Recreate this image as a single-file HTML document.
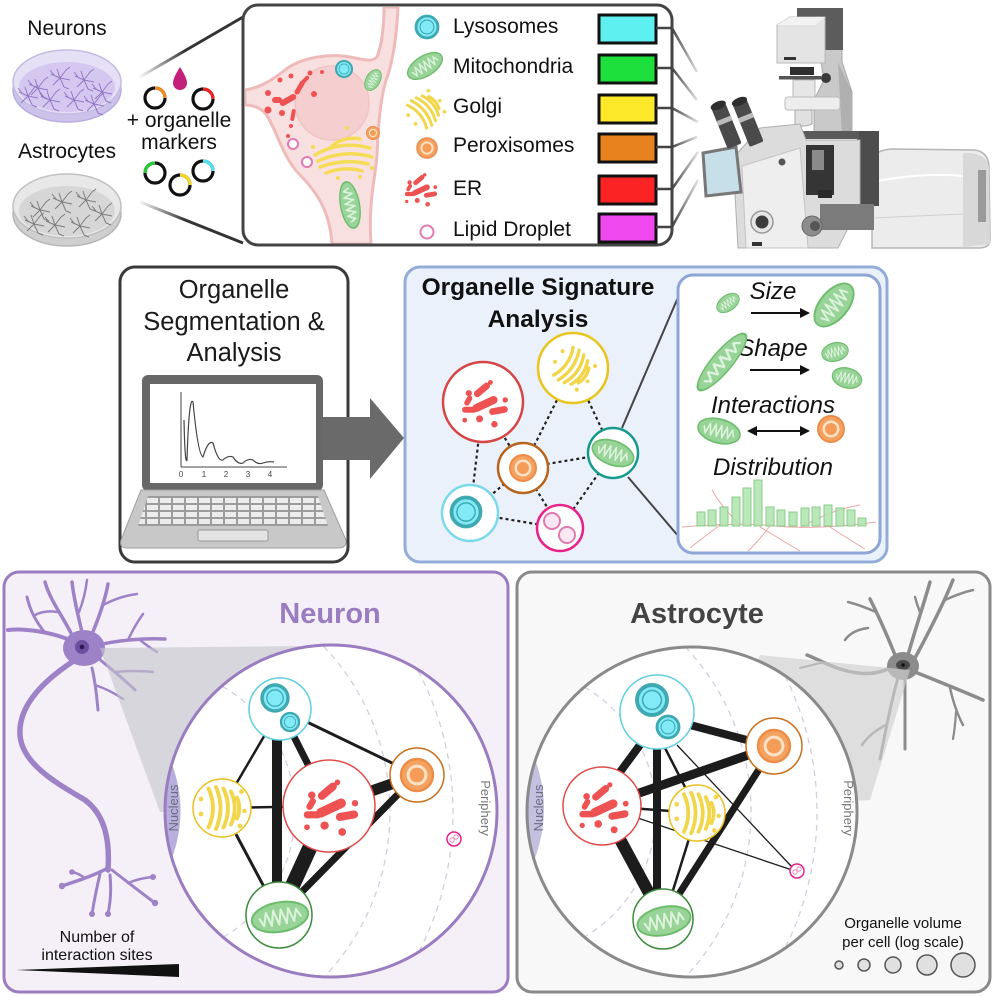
<!DOCTYPE html>
<html><head><meta charset="utf-8"><style>
html,body{margin:0;padding:0;background:#fff;width:996px;height:996px;overflow:hidden}
svg{display:block}
text{font-family:"Liberation Sans",Arial,sans-serif}
</style></head><body>
<svg width="996" height="996" viewBox="0 0 996 996" xmlns="http://www.w3.org/2000/svg">
<defs>
 <g id="mito">
  <ellipse cx="0" cy="0" rx="30" ry="14" fill="#98d398" stroke="#6dbd6d" stroke-width="2"/>
  <path d="M-22 -2 L-18 6 L-14 -6 L-10 7 L-6 -7 L-2 7 L2 -7 L6 7 L10 -7 L14 6 L18 -5 L22 3" fill="none" stroke="#dcf2dc" stroke-width="2.2" stroke-linejoin="round"/>
 </g>
 <g id="lyso">
  <circle r="10" fill="#82eaf6" stroke="#3fa9b2" stroke-width="2.6"/>
  <circle r="6.3" fill="none" stroke="#3fa9b2" stroke-width="1"/>
 </g>
 <g id="perox">
  <circle r="10" fill="#f4a262" stroke="#ec8c46" stroke-width="1.5"/>
  <circle r="6.5" fill="#fde3c6"/>
  <circle r="4.6" fill="#f59c58"/>
 </g>
 <g id="golgi">
  <g fill="none" stroke="#f2d64a" stroke-width="2.6" stroke-linecap="round">
   <path d="M-9 -13 Q -3 0 -9 13"/>
   <path d="M-4 -14 Q 2 0 -4 14"/>
   <path d="M1 -13 Q 7 0 1 13"/>
   <path d="M6 -11 Q 11 0 6 11"/>
   <path d="M10 -7 Q 13 0 10 7"/>
  </g>
  <g fill="#f2d64a">
   <circle cx="-14" cy="-6" r="1.6"/><circle cx="-14" cy="4" r="1.6"/>
   <circle cx="13" cy="-11" r="1.6"/><circle cx="15" cy="2" r="1.5"/><circle cx="12" cy="12" r="1.6"/>
  </g>
 </g>
 <g id="er" fill="#ee5252">
  <rect x="-10" y="-3" width="20" height="6" rx="3" transform="rotate(-25)"/>
  <rect x="-2" y="-12" width="14" height="5" rx="2.5" transform="rotate(-40)"/>
  <rect x="2" y="4" width="14" height="5" rx="2.5" transform="rotate(-10)"/>
  <rect x="-17" y="2" width="11" height="4.5" rx="2.2"/>
  <rect x="-8" y="-14" width="8" height="4" rx="2" transform="rotate(-60)"/>
  <circle cx="-12" cy="-8" r="2.3"/><circle cx="-4" cy="11" r="2.6"/>
  <circle cx="7" cy="15" r="2.4"/><circle cx="15" cy="-3" r="2"/>
  <circle cx="4" cy="-16" r="1.8"/><circle cx="-15" cy="12" r="1.8"/>
 </g>
 <g id="nstar">
  <path d="M0 0 L-9 -4 M0 0 L-3 -9 M0 0 L6 -8 M0 0 L10 2 M0 0 L4 9 M0 0 L-7 7 M-6 -3 L-10 -8 M6 -8 L10 -11 M4 9 L9 11" fill="none" stroke-width="1"/>
 </g>
 <marker id="ah" viewBox="0 0 10 10" refX="8" refY="5" markerWidth="5" markerHeight="5" orient="auto-start-reverse">
  <path d="M0 0 L10 5 L0 10 Z" fill="#111"/>
 </marker>
 <linearGradient id="fadeL" gradientUnits="userSpaceOnUse" x1="138" y1="0" x2="243" y2="0">
  <stop offset="0" stop-color="#333" stop-opacity="0"/><stop offset="0.45" stop-color="#333" stop-opacity="1"/>
 </linearGradient>
 <linearGradient id="fadeR" gradientUnits="userSpaceOnUse" x1="672" y1="0" x2="698" y2="0">
  <stop offset="0" stop-color="#444" stop-opacity="1"/><stop offset="1" stop-color="#444" stop-opacity="0.15"/>
 </linearGradient>
 <pattern id="keys" width="13" height="7" patternUnits="userSpaceOnUse" x="146" y="497">
  <rect x="1" y="1" width="11" height="5" fill="#ececec"/>
 </pattern>
 <clipPath id="topclip"><rect x="245" y="7" width="425" height="237" rx="13"/></clipPath>
 <clipPath id="ncirc"><circle cx="331" cy="811" r="166"/></clipPath>
 <clipPath id="acirc"><circle cx="692" cy="812" r="165"/></clipPath>
</defs>

<!-- ============ TOP ============ -->
<text x="67" y="35" font-size="21" text-anchor="middle" fill="#111">Neurons</text>
<text x="67" y="158" font-size="21" text-anchor="middle" fill="#111">Astrocytes</text>

<ellipse cx="67" cy="90" rx="54" ry="32" fill="#cdc2ea" stroke="#b9aee0" stroke-width="1.5"/>
<ellipse cx="67" cy="82" rx="54" ry="32" fill="#e6e0f6" stroke="#c4bbe4" stroke-width="1.5"/>
<ellipse cx="67" cy="87" rx="48" ry="25" fill="#d4c8f0"/>
<g stroke="#8a6bbd" fill="#8a6bbd" opacity="0.85">
 <use href="#nstar" x="38" y="88"/><use href="#nstar" x="60" y="78"/><use href="#nstar" x="84" y="80"/>
 <use href="#nstar" x="102" y="92"/><use href="#nstar" x="50" y="100"/><use href="#nstar" x="74" y="100"/>
 <use href="#nstar" x="94" y="104"/><use href="#nstar" x="28" y="96"/>
</g>
<ellipse cx="67" cy="214" rx="54" ry="32" fill="#cfcfcf" stroke="#b5b5b5" stroke-width="1.5"/>
<ellipse cx="67" cy="206" rx="54" ry="32" fill="#e8e8e8" stroke="#c0c0c0" stroke-width="1.5"/>
<ellipse cx="67" cy="211" rx="48" ry="25" fill="#d6d6d6"/>
<g stroke="#6e6e6e" fill="#6e6e6e" opacity="0.85">
 <use href="#nstar" x="40" y="210"/><use href="#nstar" x="62" y="202"/><use href="#nstar" x="86" y="200"/>
 <use href="#nstar" x="102" y="214"/><use href="#nstar" x="55" y="225"/><use href="#nstar" x="80" y="226"/>
 <use href="#nstar" x="34" y="224"/>
</g>

<line x1="138" y1="78" x2="243" y2="17" stroke="url(#fadeL)" stroke-width="3"/>
<line x1="140" y1="202" x2="243" y2="243" stroke="url(#fadeL)" stroke-width="3"/>

<path d="M180 67 Q 173 78 173 83 A7 7 0 0 0 187 83 Q 187 78 180 67 Z" fill="#c2207a"/>
<g fill="none" stroke-width="3.2">
 <circle cx="155" cy="98" r="10" stroke="#111"/><path d="M155 88 A10 10 0 0 1 165 98" stroke="#f08a1c"/>
 <circle cx="203" cy="99" r="10" stroke="#111"/><path d="M203 89 A10 10 0 0 1 213 99" stroke="#ee2222"/>
 <circle cx="155" cy="173" r="10" stroke="#111"/><path d="M145 173 A10 10 0 0 1 155 163" stroke="#22cc33"/>
 <circle cx="180" cy="185" r="10" stroke="#111"/><path d="M180 175 A10 10 0 0 1 190 185" stroke="#f2d820"/>
 <circle cx="203" cy="171" r="10" stroke="#111"/><path d="M203 161 A10 10 0 0 1 213 171" stroke="#4ee0ee"/>
</g>
<text x="179" y="127" font-size="21" text-anchor="middle" fill="#111">+ organelle</text>
<text x="179" y="149" font-size="21" text-anchor="middle" fill="#111">markers</text>

<rect x="243" y="5" width="429" height="240" rx="15" fill="#fff"/>
<g clip-path="url(#topclip)">
 <path d="M245 90 C 258 88, 270 82, 285 70 C 300 58, 330 52, 355 58 C 365 60, 372 62, 377 57 C 382 45, 384 25, 384 7 L 398 7 C 397 30, 394 55, 388 75 C 380 95, 378 130, 377 155 C 376 175, 368 200, 371 244 L 332 244 C 330 215, 320 195, 300 175 C 282 157, 275 125, 265 113 C 258 106, 250 105, 245 105 Z" fill="#f9e0e0" stroke="#efbaba" stroke-width="3"/>
 <circle cx="332" cy="103" r="37" fill="#f5cfcf" stroke="#f0c4c4" stroke-width="1.5"/>
 <g fill="#ee5252">
  <circle cx="268" cy="93" r="3"/><circle cx="268" cy="110" r="3.5"/><circle cx="280" cy="80" r="2.5"/>
  <circle cx="291" cy="76" r="2.5"/><circle cx="310" cy="73" r="2.5"/><circle cx="322" cy="72" r="2"/>
  <circle cx="282" cy="113" r="3"/><circle cx="297" cy="92" r="2.5"/><circle cx="314" cy="94" r="3"/>
  <circle cx="291" cy="126" r="2"/><circle cx="288" cy="136" r="2"/>
  <rect x="279" y="97" width="18" height="6" rx="3" transform="rotate(-30 288 100)"/>
  <rect x="293" y="85" width="15" height="5" rx="2.5" transform="rotate(-60 300 88)"/>
  <rect x="272" y="97" width="10" height="6" rx="3"/>
  <rect x="301" y="78" width="9" height="4" rx="2" transform="rotate(-45 305 80)"/>
  <rect x="287" y="113" width="12" height="4" rx="2" transform="rotate(-80 293 115)"/>
 </g>
 <g fill="none" stroke="#f5dc55" stroke-width="3.5" stroke-linecap="round">
  <path d="M315 155 Q 340 140 370 148"/><path d="M318 161 Q 345 149 372 157"/>
  <path d="M320 167 Q 345 158 368 164"/><path d="M326 173 Q 345 166 362 171"/>
  <path d="M332 146 Q 345 136 360 139"/>
 </g>
 <g fill="#f5dc55"><circle cx="313" cy="147" r="2.2"/><circle cx="347" cy="128" r="2"/><circle cx="360" cy="177" r="2"/><circle cx="372" cy="168" r="2"/><circle cx="338" cy="178" r="2"/></g>
 <circle cx="293" cy="144" r="5" fill="#fff" stroke="#e27ab4" stroke-width="2"/>
 <circle cx="307" cy="162" r="5" fill="#fff" stroke="#e27ab4" stroke-width="2"/>
 <use href="#lyso" transform="translate(344 69) scale(0.8)"/>
 <use href="#mito" transform="translate(373 80) rotate(-60) scale(0.38 0.5)"/>
 <use href="#perox" transform="translate(373 133) scale(0.65)"/>
 <use href="#mito" transform="translate(350 205) rotate(80) scale(0.78 0.68)"/>
</g>
<rect x="243" y="5" width="429" height="240" rx="15" fill="none" stroke="#444" stroke-width="3"/>

<use href="#lyso" transform="translate(427 27) scale(1.1)"/>
<use href="#mito" transform="translate(425 66) rotate(-32) scale(0.65 0.72)"/>
<use href="#golgi" transform="translate(425 110) rotate(-40) scale(1.15)"/>
<use href="#perox" transform="translate(427 148)"/>
<use href="#er" transform="translate(421 190) scale(0.95)"/>
<circle cx="427" cy="232" r="6.5" fill="#fff" stroke="#e27ab4" stroke-width="2"/>
<g font-size="21" fill="#111">
 <text x="453" y="33">Lysosomes</text>
 <text x="453" y="73">Mitochondria</text>
 <text x="453" y="113">Golgi</text>
 <text x="453" y="152">Peroxisomes</text>
 <text x="453" y="195">ER</text>
 <text x="453" y="236">Lipid Droplet</text>
</g>
<g stroke="#111" stroke-width="3">
 <rect x="599" y="15" width="57" height="28" fill="#5ef0f0"/>
 <rect x="599" y="55" width="57" height="28" fill="#1de03c"/>
 <rect x="599" y="95" width="57" height="28" fill="#fde92a"/>
 <rect x="599" y="134" width="57" height="28" fill="#e8821e"/>
 <rect x="599" y="176" width="57" height="28" fill="#fb2323"/>
 <rect x="599" y="214" width="57" height="28" fill="#ee48ee"/>
</g>
<g stroke="#444" stroke-width="2.5">
 <line x1="656" y1="28" x2="672" y2="28"/><line x1="656" y1="68" x2="672" y2="68"/>
 <line x1="656" y1="108" x2="672" y2="108"/><line x1="656" y1="147" x2="672" y2="147"/>
 <line x1="656" y1="189" x2="672" y2="189"/><line x1="656" y1="227" x2="672" y2="227"/>
</g>
<g stroke="url(#fadeR)" stroke-width="2.5">
 <line x1="672" y1="28" x2="697" y2="72"/><line x1="672" y1="68" x2="697" y2="100"/>
 <line x1="672" y1="108" x2="698" y2="122"/><line x1="672" y1="147" x2="697" y2="137"/>
 <line x1="672" y1="189" x2="698" y2="152"/><line x1="672" y1="227" x2="698" y2="180"/>
</g>

<g>
 <path d="M872 162 Q 874 150 892 149 L 975 150 Q 988 152 989 166 L 990 240 Q 990 248 978 248 L 872 248 Z" fill="#ececec" stroke="#b5b5b5" stroke-width="1.5"/>
 <path d="M963 153 Q 985 152 989 166 L 990 244 L 963 247 Z" fill="#d8d8d8"/>
 <rect x="978" y="170" width="8" height="52" fill="#9a9a9a"/>
 <path d="M873 182 Q 920 172 963 176" stroke="#fff" stroke-width="2" fill="none"/>
 <path d="M873 218 L 963 214" stroke="#d0d0d0" stroke-width="1" fill="none"/>
 <rect x="857" y="131" width="22" height="75" fill="#4d4d4d"/>
 <path d="M818 45 L842 45 L842 62 L852 92 L852 137 L814 137 L814 100 L824 80 Z" fill="#c9c9c9" stroke="#a8a8a8"/>
 <path d="M838 62 L852 92 L852 137 L842 137 Z" fill="#b0b0b0"/>
 <rect x="797" y="8" width="46" height="42" fill="#5c5c5c"/>
 <path d="M777 25 L790 17 L825 17 L825 63 L777 63 Z" fill="#e4e4e4" stroke="#b8b8b8"/>
 <path d="M777 25 L790 17 L825 17 L815 25 Z" fill="#f2f2f2"/>
 <rect x="784" y="57" width="12" height="3" fill="#333"/>
 <rect x="790" y="67" width="24" height="8" fill="#2f2f2f"/>
 <rect x="779" y="76" width="42" height="3.5" fill="#555"/>
 <circle cx="826" cy="78" r="5" fill="#3a3a3a"/>
 <rect x="793" y="80" width="22" height="17" fill="#e6e6e6" stroke="#bbb"/>
 <rect x="785" y="97" width="55" height="13" rx="3" fill="#ededed" stroke="#bbb"/>
 <path d="M795 110 L812 110 L812 124 Q 803 128 795 124 Z" fill="#e0e0e0" stroke="#aaa"/>
 <rect x="797" y="131" width="62" height="8" fill="#5a5a5a"/>
 <path d="M733 158 L760 128 L800 124 L806 140 L860 140 L860 205 L838 248 L738 248 Z" fill="#dcdcdc" stroke="#b0b0b0"/>
 <path d="M742 166 L800 148 L808 248 L746 248 Z" fill="#eeeeee" stroke="#c4c4c4"/>
 <rect x="806" y="145" width="28" height="50" fill="#353535"/>
 <rect x="812" y="150" width="12" height="20" fill="#8a8a8a"/>
 <rect x="818" y="190" width="14" height="8" fill="#2a2a2a"/>
 <path d="M703 153 L736 147 L741 192 L706 196 Z" fill="#c6dfe9" stroke="#777" stroke-width="3"/>
 <g transform="rotate(-22 726 126)">
  <rect x="719" y="104" width="15" height="44" rx="2" fill="#4a4a4a"/>
  <rect x="719" y="118" width="15" height="5" fill="#bbb"/>
  <ellipse cx="726.5" cy="104" rx="8" ry="4" fill="#2e2e2e"/>
 </g>
 <g transform="rotate(-22 748 124)">
  <rect x="741" y="100" width="15" height="46" rx="2" fill="#4a4a4a"/>
  <rect x="741" y="115" width="15" height="5" fill="#bbb"/>
  <ellipse cx="748.5" cy="100" rx="8" ry="4" fill="#2e2e2e"/>
 </g>
 <circle cx="782" cy="162" r="3.5" fill="#555"/>
 <rect x="820" y="204" width="54" height="26" fill="#7b7b7b"/>
 <circle cx="812" cy="226" r="10" fill="#8c8c8c" stroke="#666"/>
 <circle cx="815" cy="226" r="5" fill="#555"/>
 <circle cx="762" cy="222" r="11" fill="#e6e6e6" stroke="#999" stroke-width="1.5"/>
 <circle cx="762" cy="222" r="6.5" fill="#3c3c3c"/>
 <rect x="752" y="242" width="10" height="4" fill="#333"/>
</g>

<!-- ============ MIDDLE ============ -->
<rect x="120" y="267" width="228" height="295" rx="15" fill="#fff" stroke="#3a3a3a" stroke-width="3"/>
<g font-size="25.5" fill="#1a1a1a" text-anchor="middle">
 <text x="234" y="298">Organelle</text>
 <text x="234" y="330">Segmentation &amp;</text>
 <text x="234" y="361">Analysis</text>
</g>
<path d="M318 417 L370 417 L370 398 L404 438 L370 479 L370 460 L318 460 Z" fill="#6a6a6a"/>
<rect x="142" y="375" width="181" height="116" rx="6" fill="#676767"/>
<rect x="150" y="384" width="166" height="99" fill="#fff"/>
<path d="M141 490 L324 490 L346 540 Q 347 548 338 548 L 127 548 Q 119 548 121 540 Z" fill="#c8c8c8" stroke="#9e9e9e"/>
<path d="M148 496 L318 496 L328 526 L138 526 Z" fill="#9c9c9c"/>
<path d="M148 496 L318 496 L328 526 L138 526 Z" fill="url(#keys)"/>
<rect x="198" y="530" width="70" height="11" rx="2" fill="#e4e4e4" stroke="#999"/>
<g stroke="#444" fill="none" stroke-width="1">
 <line x1="181" y1="392" x2="181" y2="467"/>
 <line x1="181" y1="467" x2="287" y2="467"/>
 <path d="M184 420 Q 185 466 187 460 Q 189 395 193 402 Q 198 455 203 457 Q 208 440 213 443 Q 218 462 223 460 Q 228 455 233 457 Q 238 465 243 463 Q 248 458 253 460 Q 258 465 263 463 Q 268 461 274 462" stroke-width="1.2"/>
</g>
<g font-size="8" fill="#444" text-anchor="middle">
 <text x="181" y="477">0</text><text x="204" y="477">1</text><text x="226" y="477">2</text><text x="248" y="477">3</text><text x="270" y="477">4</text>
</g>

<rect x="405" y="267" width="482" height="295" rx="15" fill="#eaf1fa" stroke="#94acd8" stroke-width="3"/>
<g font-size="24.5" font-weight="bold" fill="#111" text-anchor="middle">
 <text x="538" y="295">Organelle Signature</text>
 <text x="538" y="327">Analysis</text>
</g>
<line x1="622" y1="428" x2="679" y2="295" stroke="#444" stroke-width="2"/>
<line x1="628" y1="477" x2="679" y2="537" stroke="#444" stroke-width="2"/>
<g stroke="#222" stroke-width="2.2" stroke-dasharray="3 3">
 <line x1="483" y1="402" x2="470" y2="513"/>
 <line x1="483" y1="402" x2="523" y2="468"/>
 <line x1="573" y1="368" x2="523" y2="468"/>
 <line x1="573" y1="368" x2="613" y2="453"/>
 <line x1="523" y1="468" x2="613" y2="453"/>
 <line x1="523" y1="468" x2="470" y2="513"/>
 <line x1="523" y1="468" x2="560" y2="528"/>
 <line x1="613" y1="453" x2="560" y2="528"/>
 <line x1="470" y1="513" x2="560" y2="528"/>
</g>
<circle cx="483" cy="402" r="40" fill="#fff" stroke="#d64545" stroke-width="2.5"/>
<use href="#er" transform="translate(485 404) scale(1.35)"/>
<circle cx="573" cy="368" r="35" fill="#fff" stroke="#e8c41e" stroke-width="2.5"/>
<use href="#golgi" transform="translate(573 368) rotate(35) scale(1.3)"/>
<circle cx="523" cy="468" r="25" fill="#fff" stroke="#b5651d" stroke-width="2.5"/>
<use href="#perox" transform="translate(523 468) scale(1.3)"/>
<circle cx="613" cy="453" r="25" fill="#fff" stroke="#179a8e" stroke-width="2.5"/>
<use href="#mito" transform="translate(613 453) rotate(20) scale(0.72 0.85)"/>
<circle cx="470" cy="513" r="28" fill="#fff" stroke="#7ad9ea" stroke-width="2.5"/>
<use href="#lyso" transform="translate(466 512) scale(1.45)"/>
<circle cx="560" cy="528" r="23" fill="#fff" stroke="#e8208a" stroke-width="2.5"/>
<circle cx="552" cy="521" r="8" fill="#fbe8f2" stroke="#e07ab2" stroke-width="2"/>
<circle cx="567" cy="535" r="8" fill="#fbe8f2" stroke="#e07ab2" stroke-width="2"/>

<rect x="678" y="275" width="202" height="278" rx="15" fill="#fff" stroke="#8da6d6" stroke-width="3"/>
<g font-size="24" font-style="italic" fill="#111" text-anchor="middle">
 <text x="773" y="299">Size</text>
 <text x="773" y="356">Shape</text>
 <text x="773" y="413">Interactions</text>
 <text x="773" y="475">Distribution</text>
</g>
<use href="#mito" transform="translate(728 303) rotate(-35) scale(0.42 0.55)"/>
<line x1="751" y1="313" x2="808" y2="313" stroke="#111" stroke-width="2" marker-end="url(#ah)"/>
<use href="#mito" transform="translate(834 305) rotate(-50) scale(0.85 1.0)"/>
<use href="#mito" transform="translate(722 362) rotate(-50) scale(1.2 0.72)"/>
<line x1="750" y1="370" x2="808" y2="370" stroke="#111" stroke-width="2" marker-end="url(#ah)"/>
<use href="#mito" transform="translate(835 352) rotate(-15) scale(0.45 0.65)"/>
<use href="#mito" transform="translate(847 378) rotate(15) scale(0.5 0.7)"/>
<use href="#mito" transform="translate(719 431) rotate(15) scale(0.72 0.85)"/>
<line x1="749" y1="431" x2="808" y2="431" stroke="#111" stroke-width="2" marker-end="url(#ah)" marker-start="url(#ah)"/>
<use href="#perox" transform="translate(831 429) scale(1.3)"/>
<g fill="none" stroke="#e89090" stroke-width="1" opacity="0.8">
 <path d="M682 527 Q 740 522 775 526 Q 820 530 876 522"/>
 <path d="M740 525 Q 720 505 712 490"/><path d="M760 527 Q 790 545 800 551"/>
 <path d="M770 526 Q 755 545 748 551"/><path d="M800 528 Q 830 510 860 505"/>
 <path d="M720 525 Q 700 540 690 548"/><path d="M830 527 Q 850 540 865 549"/>
</g>
<g fill="#b4e6b4" stroke="#7cc87c" stroke-width="1" opacity="0.9">
 <rect x="697" y="512" width="8" height="14"/><rect x="708" y="510" width="8" height="16"/>
 <rect x="720" y="507" width="8" height="19"/><rect x="732" y="497" width="8" height="29"/>
 <rect x="743" y="488" width="8" height="38"/><rect x="754" y="480" width="8" height="46"/>
 <rect x="766" y="507" width="8" height="19"/><rect x="777" y="510" width="8" height="16"/>
 <rect x="789" y="512" width="8" height="14"/><rect x="801" y="508" width="8" height="18"/>
 <rect x="812" y="507" width="8" height="19"/><rect x="824" y="505" width="8" height="21"/>
 <rect x="836" y="508" width="8" height="18"/><rect x="847" y="510" width="8" height="16"/>
 <rect x="858" y="518" width="8" height="8"/>
</g>

<!-- ============ BOTTOM: NEURON ============ -->
<rect x="4" y="572" width="504" height="420" rx="15" fill="#f5f0f8" stroke="#9a7cc0" stroke-width="3"/>
<text x="330" y="623" font-size="29" font-weight="bold" fill="#9a7cc0" text-anchor="middle">Neuron</text>
<g fill="none" stroke="#9e82c8" stroke-linecap="round">
 <path d="M72 662 C 45 680, 18 705, 20 735 C 22 765, 60 785, 85 800 C 105 815, 110 840, 108 870" stroke-width="5.5"/>
 <path d="M108 868 C 95 875, 80 880, 62 886" stroke-width="3.5"/>
 <path d="M85 878 Q 78 873 72 872" stroke-width="2.5"/>
 <path d="M100 874 Q 95 895 92 914" stroke-width="3"/>
 <path d="M110 875 Q 112 895 108 914" stroke-width="3"/>
 <path d="M112 870 Q 135 888 155 903" stroke-width="3"/>
 <path d="M128 883 Q 140 878 153 877" stroke-width="2.5"/>
 <path d="M70 640 C 50 632, 25 628, 8 630" stroke-width="4"/>
 <path d="M45 633 C 35 620, 30 610, 27 597" stroke-width="3"/>
 <path d="M72 635 C 62 615, 50 600, 45 582" stroke-width="3.5"/>
 <path d="M57 612 Q 45 610 35 615" stroke-width="2.5"/>
 <path d="M82 632 C 78 615, 74 600, 72 582" stroke-width="3.5"/>
 <path d="M79 612 Q 85 597 87 580" stroke-width="2.5"/>
 <path d="M92 634 C 100 615, 105 600, 108 584" stroke-width="3.5"/>
 <path d="M103 605 Q 120 596 137 594" stroke-width="2.5"/>
 <path d="M98 645 C 120 640, 145 638, 165 639" stroke-width="3.5"/>
 <path d="M128 640 Q 135 625 143 614" stroke-width="2.5"/>
 <path d="M140 640 Q 150 648 157 652" stroke-width="2.5"/>
 <path d="M98 658 C 110 668, 125 680, 135 690" stroke-width="3"/>
 <path d="M115 672 Q 135 670 153 672" stroke-width="2.5"/>
 <path d="M92 668 C 96 685, 97 700, 98 710" stroke-width="3"/>
 <path d="M95 685 Q 110 690 123 699" stroke-width="2.5"/>
</g>
<g fill="#9e82c8">
 <circle cx="62" cy="886" r="3.2"/><circle cx="92" cy="914" r="3"/><circle cx="108" cy="914" r="3"/>
 <circle cx="155" cy="903" r="3.2"/><circle cx="153" cy="877" r="3"/><circle cx="72" cy="872" r="2.8"/>
</g>
<ellipse cx="84" cy="648" rx="21" ry="18" fill="#9e82c8"/>
<circle cx="82" cy="647" r="7" fill="#6d4fa0"/>
<circle cx="82" cy="647" r="2.3" fill="#2a1850"/>
<polygon points="100,648 300,646 331,811 160,812" fill="#c4c4cc" opacity="0.6"/>
<circle cx="331" cy="811" r="166" fill="#fff"/>
<g clip-path="url(#ncirc)">
 <path d="M168 754 Q 193 811 168 868 Q 157 811 168 754 Z" fill="#b8b0dc"/>
</g>
<g fill="none" stroke="#cfcfe0" stroke-width="1.3" stroke-dasharray="6 5">
 <path d="M222.5 686.4 A145 145 0 0 1 222.5 937.6"/>
 <path d="M323.5 646.2 A240 240 0 0 1 323.5 977.8"/>
 <path d="M418 670.6 A303 303 0 0 1 418 953.4"/>
</g>
<circle cx="331" cy="811" r="166" fill="none" stroke="#9a7cc0" stroke-width="3"/>
<text transform="translate(178 808) rotate(-90)" font-size="13" fill="#6b6b80" text-anchor="middle">Nucleus</text>
<text transform="translate(481 808) rotate(90)" font-size="13" fill="#777" text-anchor="middle">Periphery</text>
<g stroke="#1c1c1c" stroke-linecap="butt">
 <line x1="280" y1="709" x2="417" y2="775" stroke-width="3"/>
 <line x1="280" y1="709" x2="222" y2="808" stroke-width="2.5"/>
 <line x1="277" y1="709" x2="277" y2="915" stroke-width="10"/>
 <line x1="280" y1="709" x2="329" y2="806" stroke-width="7"/>
 <line x1="222" y1="808" x2="329" y2="806" stroke-width="2.5"/>
 <line x1="222" y1="808" x2="279" y2="915" stroke-width="3"/>
 <line x1="329" y1="806" x2="417" y2="775" stroke-width="11"/>
 <line x1="329" y1="806" x2="279" y2="915" stroke-width="15"/>
 <line x1="417" y1="775" x2="279" y2="915" stroke-width="7"/>
</g>
<circle cx="280" cy="709" r="31" fill="#fff" stroke="#62cfe0" stroke-width="1.5"/>
<use href="#lyso" transform="translate(275 698) scale(1.3)"/>
<use href="#lyso" transform="translate(290 722) scale(0.9)"/>
<circle cx="222" cy="808" r="29" fill="#fff" stroke="#e8c020" stroke-width="1.5"/>
<use href="#golgi" transform="translate(222 808) scale(1.5)"/>
<circle cx="329" cy="806" r="46" fill="#fff" stroke="#e04848" stroke-width="1.5"/>
<use href="#er" transform="translate(331 808) scale(1.6)"/>
<circle cx="417" cy="775" r="27" fill="#fff" stroke="#c8701a" stroke-width="1.5"/>
<use href="#perox" transform="translate(417 775) scale(1.6)"/>
<circle cx="279" cy="915" r="33" fill="#fff" stroke="#3d8a3d" stroke-width="1.5"/>
<use href="#mito" transform="translate(280 917) rotate(-10) scale(0.95 1.05)"/>
<circle cx="454" cy="839" r="7" fill="#fff" stroke="#e8208a" stroke-width="1.5"/>
<circle cx="452" cy="840" r="2.2" fill="none" stroke="#e87ab0" stroke-width="0.8"/>
<circle cx="456" cy="837" r="2.2" fill="none" stroke="#e87ab0" stroke-width="0.8"/>
<text x="97" y="942" font-size="16" fill="#111" text-anchor="middle">Number of</text>
<text x="97" y="960" font-size="16" fill="#111" text-anchor="middle">interaction sites</text>
<polygon points="16,970 179,964 179,977" fill="#111"/>

<!-- ============ BOTTOM: ASTROCYTE ============ -->
<rect x="517" y="572" width="473" height="420" rx="15" fill="#f8f8f8" stroke="#8a8a8a" stroke-width="3"/>
<text x="697" y="623" font-size="29" font-weight="bold" fill="#444" text-anchor="middle">Astrocyte</text>
<g fill="none" stroke="#8c8c8c" stroke-linecap="round">
 <path d="M895 655 C 885 630, 878 615, 870 599" stroke-width="3.5"/>
 <path d="M876 612 Q 860 605 848 602" stroke-width="2.5"/>
 <path d="M868 628 Q 852 630 845 640" stroke-width="2.5"/>
 <path d="M908 655 C 915 630, 925 600, 930 582" stroke-width="3.5"/>
 <path d="M920 612 Q 917 605 915 597" stroke-width="2.5"/>
 <path d="M915 658 C 930 630, 945 600, 953 580" stroke-width="3.5"/>
 <path d="M945 600 Q 960 593 973 590" stroke-width="2.5"/>
 <path d="M915 672 C 935 680, 960 690, 983 700" stroke-width="3.5"/>
 <path d="M950 688 Q 955 710 963 725" stroke-width="2.5"/>
 <path d="M956 712 Q 955 728 953 739" stroke-width="2.2"/>
 <path d="M905 678 C 905 700, 905 725, 905 749" stroke-width="3"/>
 <path d="M898 678 C 890 705, 885 735, 880 759" stroke-width="3"/>
 <path d="M886 725 Q 870 733 862 745" stroke-width="2.5"/>
 <path d="M890 668 C 870 678, 850 672, 840 669 C 825 664, 815 658, 807 655" stroke-width="3.5"/>
 <path d="M825 662 Q 812 665 800 668" stroke-width="2"/>
</g>
<ellipse cx="903" cy="666" rx="16" ry="14" fill="#8c8c8c"/>
<ellipse cx="903" cy="665" rx="7" ry="5" fill="#4a4a4a"/>
<circle cx="903" cy="665" r="1.8" fill="#111"/>
<polygon points="760,655 910,670 870,800 692,812" fill="#cfcfcf" opacity="0.65"/>
<circle cx="692" cy="812" r="165" fill="#fff"/>
<g clip-path="url(#acirc)">
 <path d="M532 752 Q 556 808 532 866 Q 521 808 532 752 Z" fill="#c4c0e0"/>
</g>
<g fill="none" stroke="#cfcfe0" stroke-width="1.3" stroke-dasharray="6 5">
 <path d="M584.4 687 A145 145 0 0 1 584.4 937"/>
 <path d="M685.4 647.1 A240 240 0 0 1 685.4 976.9"/>
 <path d="M785 675.8 A306 306 0 0 1 785 948.2"/>
</g>
<circle cx="692" cy="812" r="165" fill="none" stroke="#8a8a8a" stroke-width="3"/>
<text transform="translate(543 808) rotate(-90)" font-size="13" fill="#6b6b80" text-anchor="middle">Nucleus</text>
<text transform="translate(844 808) rotate(90)" font-size="13" fill="#777" text-anchor="middle">Periphery</text>
<g stroke="#1c1c1c">
 <line x1="690" y1="725" x2="747" y2="740" stroke-width="8"/>
 <line x1="640" y1="745" x2="620" y2="772" stroke-width="8"/>
 <line x1="657" y1="712" x2="657" y2="900" stroke-width="8"/>
 <line x1="665" y1="748" x2="685" y2="787" stroke-width="2.5"/>
 <line x1="677" y1="745" x2="792" y2="867" stroke-width="1.3"/>
 <line x1="602" y1="806" x2="774" y2="746" stroke-width="9"/>
 <line x1="602" y1="806" x2="697" y2="813" stroke-width="2.5"/>
 <line x1="602" y1="806" x2="792" y2="870" stroke-width="1.3"/>
 <line x1="602" y1="806" x2="663" y2="919" stroke-width="12"/>
 <line x1="697" y1="813" x2="670" y2="900" stroke-width="2.5"/>
 <line x1="774" y1="746" x2="663" y2="919" stroke-width="7"/>
</g>
<circle cx="657" cy="712" r="37" fill="#fff" stroke="#62cfe0" stroke-width="1.5"/>
<use href="#lyso" transform="translate(652 700) scale(1.5)"/>
<use href="#lyso" transform="translate(668 727) scale(1.1)"/>
<circle cx="774" cy="746" r="28" fill="#fff" stroke="#c8701a" stroke-width="1.5"/>
<use href="#perox" transform="translate(774 746) scale(1.6)"/>
<circle cx="602" cy="806" r="39" fill="#fff" stroke="#e04848" stroke-width="1.5"/>
<use href="#er" transform="translate(604 808) scale(1.45)"/>
<circle cx="697" cy="813" r="28" fill="#fff" stroke="#e8c020" stroke-width="1.5"/>
<use href="#golgi" transform="translate(697 813) scale(1.45)"/>
<circle cx="663" cy="919" r="30" fill="#fff" stroke="#3d8a3d" stroke-width="1.5"/>
<use href="#mito" transform="translate(664 921) rotate(-12) scale(0.9 1.0)"/>
<circle cx="797" cy="871" r="7" fill="#fff" stroke="#e8208a" stroke-width="1.5"/>
<circle cx="795" cy="872" r="2.2" fill="none" stroke="#e87ab0" stroke-width="0.8"/>
<circle cx="799" cy="869" r="2.2" fill="none" stroke="#e87ab0" stroke-width="0.8"/>
<text x="903" y="928" font-size="15" fill="#111" text-anchor="middle">Organelle volume</text>
<text x="903" y="947" font-size="15" fill="#111" text-anchor="middle">per cell (log scale)</text>
<g fill="#e0e0e0" stroke="#555" stroke-width="1.5">
 <circle cx="839" cy="965" r="4"/><circle cx="864" cy="965" r="6"/><circle cx="893" cy="965" r="8"/>
 <circle cx="927" cy="965" r="10"/><circle cx="963" cy="965" r="12"/>
</g>
</svg>
</body></html>
